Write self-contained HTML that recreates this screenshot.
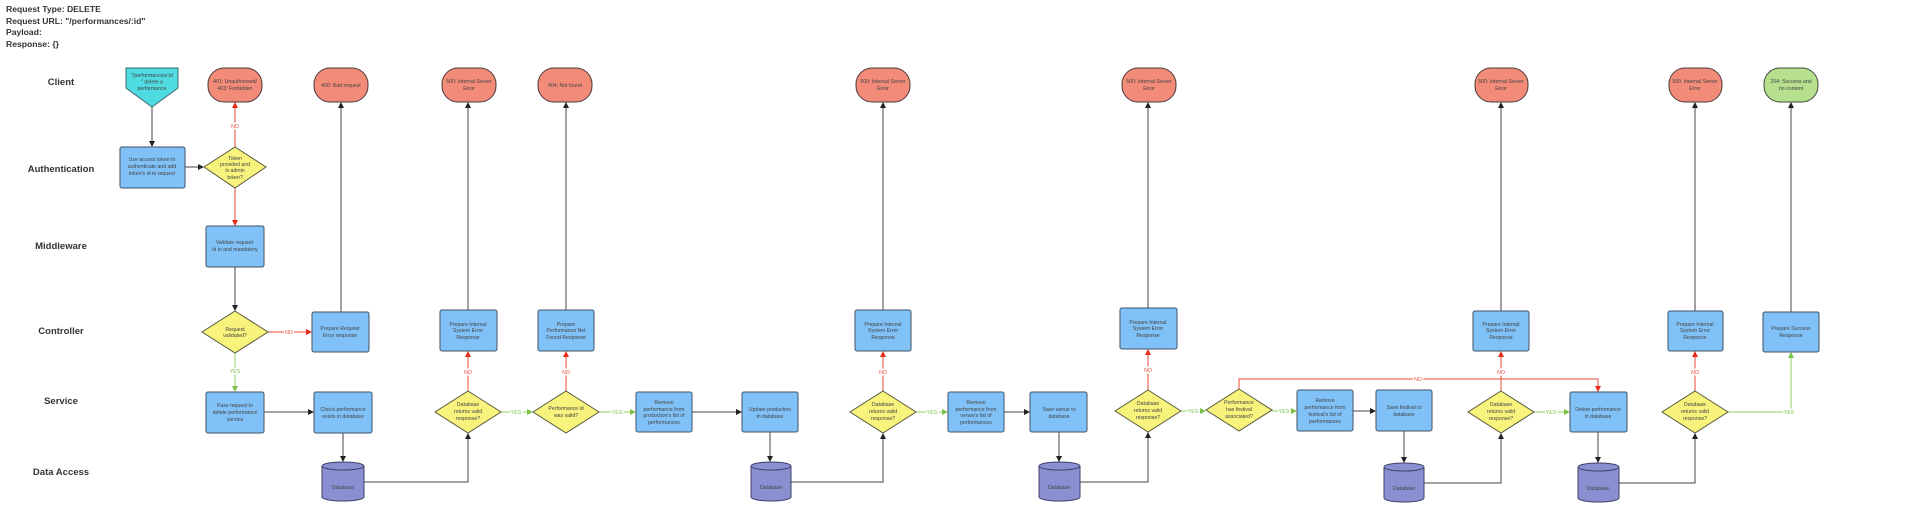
<!DOCTYPE html>
<html><head><meta charset="utf-8"><style>
html,body{margin:0;padding:0;background:#fff;width:1924px;height:519px;overflow:hidden}
svg{display:block}
.hd{font:bold 8.6px "Liberation Sans",sans-serif;fill:#333}
.ln{font:bold 9.5px "Liberation Sans",sans-serif;fill:#333;text-anchor:middle}
.b{fill:#80c1f7;stroke:#3f5265;stroke-width:1}
.p{fill:#f38b79;stroke:#4a3b38;stroke-width:1}
.g{fill:#b6e08e;stroke:#3f4a38;stroke-width:1}
.y{fill:#f7f37c;stroke:#5a5a40;stroke-width:1}
.c{fill:#8a8fd2;stroke:#3c3f66;stroke-width:1}
.t{font:5.2px "Liberation Sans",sans-serif;fill:#444;text-anchor:middle}
.k{stroke:#444;stroke-width:1;fill:none}
.r{stroke:#ea4a38;stroke-width:1;fill:none}
.gr{stroke:#8fd05c;stroke-width:1;fill:none}
.lr{font:5.2px "Liberation Sans",sans-serif;fill:#ea4a38;text-anchor:middle;paint-order:stroke;stroke:#fff;stroke-width:3px}
.lg{font:5.2px "Liberation Sans",sans-serif;fill:#7cc24a;text-anchor:middle;paint-order:stroke;stroke:#fff;stroke-width:3px}
</style></head><body>
<svg width="1924" height="519" viewBox="0 0 1924 519" xmlns="http://www.w3.org/2000/svg">
<defs>
<marker id="ak" markerWidth="6" markerHeight="6" refX="5" refY="3" orient="auto" markerUnits="userSpaceOnUse"><path d="M0,0 L6,3 L0,6z" fill="#222"/></marker>
<marker id="ar" markerWidth="6" markerHeight="6" refX="5" refY="3" orient="auto" markerUnits="userSpaceOnUse"><path d="M0,0 L6,3 L0,6z" fill="#e82a1a"/></marker>
<marker id="ag" markerWidth="6" markerHeight="6" refX="5" refY="3" orient="auto" markerUnits="userSpaceOnUse"><path d="M0,0 L6,3 L0,6z" fill="#7cc24a"/></marker>
</defs>

<text class="hd" x="6" y="12">Request Type: DELETE</text>
<text class="hd" x="6" y="24">Request URL: "/performances/:id"</text>
<text class="hd" x="6" y="35">Payload:</text>
<text class="hd" x="6" y="47">Response: {}</text>

<text class="ln" x="61" y="85">Client</text>
<text class="ln" x="61" y="172">Authentication</text>
<text class="ln" x="61" y="249">Middleware</text>
<text class="ln" x="61" y="334">Controller</text>
<text class="ln" x="61" y="404">Service</text>
<text class="ln" x="61" y="475">Data Access</text>

<!-- connectors black -->
<g class="k" marker-end="url(#ak)">
<path d="M152,107V146"/><path d="M185,167H203"/><path d="M235,267V310"/>
<path d="M341,312V103"/><path d="M264,412H313"/><path d="M343,433V461"/>
<path d="M364,482H468V434"/><path d="M468,310V103"/><path d="M566,310V103"/>
<path d="M692,412H741"/><path d="M770,432V461"/><path d="M791,482H883V434"/>
<path d="M883,310V103"/><path d="M1004,412H1029"/><path d="M1059,432V461"/>
<path d="M1080,482H1148V433"/><path d="M1148,308V103"/><path d="M1353,411H1375"/>
<path d="M1404,431V462"/><path d="M1424,483H1501V434"/><path d="M1501,311V103"/>
<path d="M1598,432V462"/><path d="M1619,483H1695V434"/><path d="M1695,311V103"/>
<path d="M1791,312V103"/>
</g>
<g class="r" marker-end="url(#ar)">
<path d="M235,147V103"/><path d="M235,188V225"/><path d="M268,332H311"/>
<path d="M468,391V352"/><path d="M566,391V352"/><path d="M883,391V352"/>
<path d="M1148,390V350"/><path d="M1239,389V379H1598V391"/><path d="M1501,391V352"/>
<path d="M1695,391V352"/>
</g>
<g class="gr" marker-end="url(#ag)">
<path d="M235,353V391"/><path d="M501,412H532"/><path d="M599,412H635"/>
<path d="M916,412H947"/><path d="M1181,411H1205"/><path d="M1272,411H1296"/>
<path d="M1534,412H1569"/><path d="M1728,412H1791V353"/>
</g>
<text class="lr" x="235" y="128">NO</text><text class="lr" x="289" y="334">NO</text>
<text class="lr" x="468" y="374">NO</text><text class="lr" x="566" y="374">NO</text>
<text class="lr" x="883" y="374">NO</text><text class="lr" x="1148" y="372">NO</text>
<text class="lr" x="1418" y="381">NO</text><text class="lr" x="1501" y="374">NO</text>
<text class="lr" x="1695" y="374">NO</text>
<text class="lg" x="235" y="373">YES</text><text class="lg" x="516" y="414">YES</text>
<text class="lg" x="617" y="414">YES</text><text class="lg" x="932" y="414">YES</text>
<text class="lg" x="1193" y="413">YES</text><text class="lg" x="1284" y="413">YES</text>
<text class="lg" x="1551" y="414">YES</text><text class="lg" x="1789" y="414">YES</text>

<!-- start -->
<polygon points="126,68 178,68 178,88 152,107 126,88" fill="#4fdbe2" stroke="#3a6a70"/>
<text class="t" x="152" y="77">"/performances/:id</text><text class="t" x="152" y="83.5">" delete a</text><text class="t" x="152" y="90">performance</text>

<!-- pills -->
<rect class="p" x="208" y="68" width="54" height="34" rx="16"/><text class="t" x="235" y="83">401: Unauthorised/</text><text class="t" x="235" y="90">403: Forbidden</text>
<rect class="p" x="314" y="68" width="54" height="34" rx="16"/><text class="t" x="341" y="87">400: Bad request</text>
<rect class="p" x="442" y="68" width="54" height="34" rx="16"/><text class="t" x="469" y="83">500: Internal Server</text><text class="t" x="469" y="90">Error</text>
<rect class="p" x="538" y="68" width="54" height="34" rx="16"/><text class="t" x="565" y="87">404: Not found</text>
<rect class="p" x="856" y="68" width="54" height="34" rx="16"/><text class="t" x="883" y="83">500: Internal Server</text><text class="t" x="883" y="90">Error</text>
<rect class="p" x="1122" y="68" width="54" height="34" rx="16"/><text class="t" x="1149" y="83">500: Internal Server</text><text class="t" x="1149" y="90">Error</text>
<rect class="p" x="1475" y="68" width="53" height="34" rx="16"/><text class="t" x="1501" y="83">500: Internal Server</text><text class="t" x="1501" y="90">Error</text>
<rect class="p" x="1669" y="68" width="53" height="34" rx="16"/><text class="t" x="1695" y="83">500: Internal Server</text><text class="t" x="1695" y="90">Error</text>
<rect class="g" x="1764" y="68" width="54" height="34" rx="16"/><text class="t" x="1791" y="83">204: Success and</text><text class="t" x="1791" y="90">no content</text>

<!-- boxes -->
<rect class="b" x="120" y="147" width="65" height="41" rx="2"/><text class="t" x="152" y="161">Use access token to</text><text class="t" x="152" y="168">authenticate and add</text><text class="t" x="152" y="175">token's id to request</text>
<rect class="b" x="206" y="226" width="58" height="41" rx="2"/><text class="t" x="235" y="244">Validate request:</text><text class="t" x="235" y="251">id in and mandatory</text>
<rect class="b" x="312" y="312" width="57" height="40" rx="2"/><text class="t" x="340" y="330">Prepare Request</text><text class="t" x="340" y="337">Error response</text>
<rect class="b" x="440" y="310" width="57" height="41" rx="2"/><text class="t" x="468" y="326">Prepare Internal</text><text class="t" x="468" y="332">System Error</text><text class="t" x="468" y="339">Response</text>
<rect class="b" x="538" y="310" width="56" height="41" rx="2"/><text class="t" x="566" y="326">Prepare</text><text class="t" x="566" y="332">Performance Not</text><text class="t" x="566" y="339">Found Response</text>
<rect class="b" x="855" y="310" width="56" height="41" rx="2"/><text class="t" x="883" y="326">Prepare Internal</text><text class="t" x="883" y="332">System Error</text><text class="t" x="883" y="339">Response</text>
<rect class="b" x="1120" y="308" width="57" height="41" rx="2"/><text class="t" x="1148" y="324">Prepare Internal</text><text class="t" x="1148" y="330">System Error</text><text class="t" x="1148" y="337">Response</text>
<rect class="b" x="1473" y="311" width="56" height="40" rx="2"/><text class="t" x="1501" y="326">Prepare Internal</text><text class="t" x="1501" y="332">System Error</text><text class="t" x="1501" y="339">Response</text>
<rect class="b" x="1668" y="311" width="55" height="40" rx="2"/><text class="t" x="1695" y="326">Prepare Internal</text><text class="t" x="1695" y="332">System Error</text><text class="t" x="1695" y="339">Response</text>
<rect class="b" x="1763" y="312" width="56" height="40" rx="2"/><text class="t" x="1791" y="330">Prepare Success</text><text class="t" x="1791" y="337">Response</text>

<rect class="b" x="206" y="392" width="58" height="41" rx="2"/><text class="t" x="235" y="407">Pass request to</text><text class="t" x="235" y="414">delete performance</text><text class="t" x="235" y="421">service</text>
<rect class="b" x="314" y="392" width="58" height="41" rx="2"/><text class="t" x="343" y="411">Check performance</text><text class="t" x="343" y="418">exists in database</text>
<rect class="b" x="636" y="392" width="56" height="40" rx="2"/><text class="t" x="664" y="404">Remove</text><text class="t" x="664" y="411">performance from</text><text class="t" x="664" y="417">production's list of</text><text class="t" x="664" y="424">performances</text>
<rect class="b" x="742" y="392" width="56" height="40" rx="2"/><text class="t" x="770" y="411">Update production</text><text class="t" x="770" y="418">in database</text>
<rect class="b" x="948" y="392" width="56" height="40" rx="2"/><text class="t" x="976" y="404">Remove</text><text class="t" x="976" y="411">performance from</text><text class="t" x="976" y="417">venue's list of</text><text class="t" x="976" y="424">performances</text>
<rect class="b" x="1030" y="392" width="57" height="40" rx="2"/><text class="t" x="1059" y="411">Save venue to</text><text class="t" x="1059" y="418">database</text>
<rect class="b" x="1297" y="390" width="56" height="41" rx="2"/><text class="t" x="1325" y="402">Remove</text><text class="t" x="1325" y="409">performance from</text><text class="t" x="1325" y="416">festival's list of</text><text class="t" x="1325" y="423">performances</text>
<rect class="b" x="1376" y="390" width="56" height="41" rx="2"/><text class="t" x="1404" y="409">Save festival to</text><text class="t" x="1404" y="416">database</text>
<rect class="b" x="1570" y="392" width="57" height="40" rx="2"/><text class="t" x="1598" y="411">Delete performance</text><text class="t" x="1598" y="418">in database</text>

<!-- diamonds -->
<polygon class="y" points="235,147 266,167 235,188 204,167"/><text class="t" x="235" y="160">Token</text><text class="t" x="235" y="166">provided and</text><text class="t" x="235" y="172">is admin</text><text class="t" x="235" y="179">token?</text>
<polygon class="y" points="235,311 268,332 235,353 202,332"/><text class="t" x="235" y="331">Request</text><text class="t" x="235" y="337">validated?</text>
<polygon class="y" points="468,391 501,412 468,433 435,412"/><text class="t" x="468" y="406">Database</text><text class="t" x="468" y="413">returns valid</text><text class="t" x="468" y="420">response?</text>
<polygon class="y" points="566,391 599,412 566,433 533,412"/><text class="t" x="566" y="410">Performance id</text><text class="t" x="566" y="417">was valid?</text>
<polygon class="y" points="883,391 916,412 883,433 850,412"/><text class="t" x="883" y="406">Database</text><text class="t" x="883" y="413">returns valid</text><text class="t" x="883" y="420">response?</text>
<polygon class="y" points="1148,390 1181,411 1148,432 1115,411"/><text class="t" x="1148" y="405">Database</text><text class="t" x="1148" y="412">returns valid</text><text class="t" x="1148" y="419">response?</text>
<polygon class="y" points="1239,389 1272,410 1239,431 1206,410"/><text class="t" x="1239" y="404">Performance</text><text class="t" x="1239" y="411">has festival</text><text class="t" x="1239" y="418">associated?</text>
<polygon class="y" points="1501,391 1534,412 1501,433 1468,412"/><text class="t" x="1501" y="406">Database</text><text class="t" x="1501" y="413">returns valid</text><text class="t" x="1501" y="420">response?</text>
<polygon class="y" points="1695,391 1728,412 1695,433 1662,412"/><text class="t" x="1695" y="406">Database</text><text class="t" x="1695" y="413">returns valid</text><text class="t" x="1695" y="420">response?</text>

<!-- cylinders -->
<g>
<path class="c" d="M322,466 v31 a21,4 0 0 0 42,0 v-31 a21,4 0 0 0 -42,0 a21,4 0 0 0 42,0"/><text class="t" x="343" y="489">Database</text>
<path class="c" d="M751,466 v31 a20,4 0 0 0 40,0 v-31 a20,4 0 0 0 -40,0 a20,4 0 0 0 40,0"/><text class="t" x="771" y="489">Database</text>
<path class="c" d="M1039,466 v31 a20.5,4 0 0 0 41,0 v-31 a20.5,4 0 0 0 -41,0 a20.5,4 0 0 0 41,0"/><text class="t" x="1059" y="489">Database</text>
<path class="c" d="M1384,467 v31 a20,4 0 0 0 40,0 v-31 a20,4 0 0 0 -40,0 a20,4 0 0 0 40,0"/><text class="t" x="1404" y="490">Database</text>
<path class="c" d="M1578,467 v31 a20.5,4 0 0 0 41,0 v-31 a20.5,4 0 0 0 -41,0 a20.5,4 0 0 0 41,0"/><text class="t" x="1598" y="490">Database</text>
</g>
</svg>
</body></html>
